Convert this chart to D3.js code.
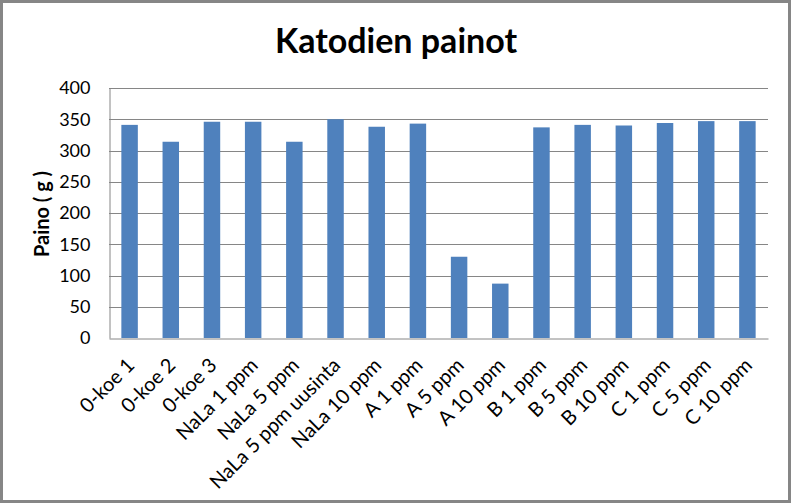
<!DOCTYPE html>
<html>
<head>
<meta charset="utf-8">
<script src="https://cdn.jsdelivr.net/npm/d3@7"></script>
<style>
  body { margin: 0; background: #fff; }
  svg { display: block; }
</style>
</head>
<body>
<svg id="chart" width="791" height="503"></svg>
<script>
// values
const categories = [
  "0-koe 1", "0-koe 2", "0-koe 3", "NaLa 1 ppm", "NaLa 5 ppm", "NaLa 5 ppm uusinta",
  "NaLa 10 ppm", "A 1 ppm", "A 5 ppm", "A 10 ppm", "B 1 ppm", "B 5 ppm",
  "B 10 ppm", "C 1 ppm", "C 5 ppm", "C 10 ppm"
];
const weights = [341, 314, 346, 346, 314, 350, 338, 343, 130, 87, 337, 341, 340, 344, 347, 347];
const yTicks = [0, 50, 100, 150, 200, 250, 300, 350, 400];

const width = 791, height = 503;
const margin = { top: 88, right: 23, bottom: 165, left: 109 };
const font = "Lato, sans-serif";

const svg = d3.select("#chart");

// outer frame
svg.append("rect")
  .attr("x", 1.5).attr("y", 1.5)
  .attr("width", width - 3).attr("height", height - 3)
  .attr("fill", "#fff")
  .attr("stroke", "#868686")
  .attr("stroke-width", 3);

const x = d3.scaleBand()
  .domain(categories)
  .range([margin.left, width - margin.right])
  .paddingInner(0.6)
  .paddingOuter(0.3);

const y = d3.scaleLinear()
  .domain([0, 400])
  .range([height - margin.bottom, margin.top]);

// gridlines
svg.append("g")
  .selectAll("line")
  .data(yTicks.slice(1))
  .join("line")
  .attr("x1", margin.left).attr("x2", width - margin.right)
  .attr("y1", d => Math.round(y(d)) + 0.5).attr("y2", d => Math.round(y(d)) + 0.5)
  .attr("stroke", "#868686");

// bars
svg.append("g")
  .selectAll("rect")
  .data(weights)
  .join("rect")
  .attr("x", (d, i) => x(categories[i]))
  .attr("width", x.bandwidth())
  .attr("y", d => y(d))
  .attr("height", d => y(0) - y(d))
  .attr("fill", "#4F81BD");

// y axis
const yAxis = svg.append("g")
  .attr("transform", `translate(${margin.left + 0.5},0)`)
  .call(d3.axisLeft(y).tickValues(yTicks).tickSize(0).tickPadding(19));
yAxis.select(".domain").attr("stroke", "#868686");
yAxis.selectAll("text")
  .attr("font-family", font).attr("font-size", 18).attr("fill", "#000");

// x axis, labels slanted 45 degrees
const xAxis = svg.append("g")
  .attr("transform", `translate(0,${Math.round(y(0)) + 0.5})`)
  .call(d3.axisBottom(x).tickSize(0).tickPadding(0));
xAxis.select(".domain").attr("stroke", "#868686");
xAxis.selectAll("text")
  .attr("font-family", font).attr("font-size", 20).attr("fill", "#000")
  .attr("text-anchor", "end")
  .attr("dy", 0)
  .attr("transform", "translate(6,28) rotate(-45)");

// title
svg.append("text")
  .attr("x", 396).attr("y", 53)
  .attr("text-anchor", "middle")
  .attr("font-family", font).attr("font-weight", "bold").attr("font-size", 34)
  .text("Katodien painot");

// y axis title
svg.append("text")
  .attr("transform", "translate(49,214) rotate(-90)")
  .attr("text-anchor", "middle")
  .attr("font-family", font).attr("font-weight", "bold").attr("font-size", 20)
  .text("Paino ( g )");
</script>
</body>
</html>
